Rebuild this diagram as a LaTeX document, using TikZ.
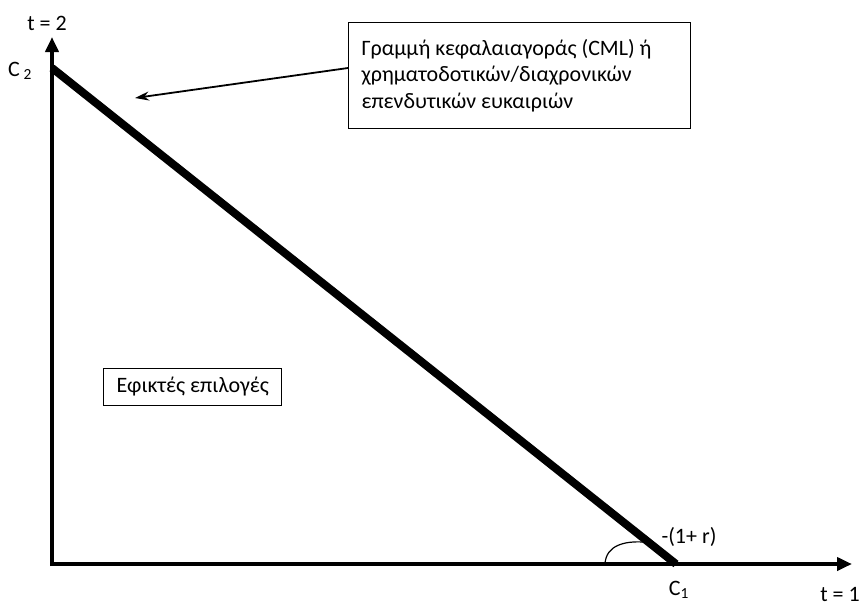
\documentclass[tikz,border=0pt]{standalone}
\usepackage{fontspec}
\setmainfont{Carlito}
\usepackage{tikz}
\usetikzlibrary{arrows.meta, positioning}

\begin{document}
\begin{tikzpicture}[
  x=1pt, y=-1pt,
  axisln/.style={line width=4.5pt, -{Triangle[length=15pt, width=13pt]}},
  cmlln/.style={line width=8pt},
  notebox/.style={rectangle, draw, line width=1pt, font=\fontsize{22}{26.5}\selectfont,
               align=flush left, inner xsep=13pt, inner ysep=6pt},
  lbl/.style={font=\fontsize{22}{24}\selectfont, inner sep=0pt},
  ptr/.style={-{Stealth[length=14pt, width=9pt]}, line width=1.8pt}
]
  \useasboundingbox (0,0) rectangle (867,606);

  % axes
  \coordinate (o) at (50,564);
  \coordinate (ytop) at (52,37);
  \coordinate (xend) at (852,564);
  \draw[axisln] (52,566) -- (ytop);
  \draw[axisln] (o) -- (xend);

  % capital market line
  \coordinate (c2) at (52,68);
  \coordinate (c1) at (676,564);
  \draw[cmlln] (c2) -- (c1);

  % slope arc
  \coordinate (arcA) at (605,564);
  \coordinate (arcB) at (643,542);
  \draw[line width=1.2pt] (arcA) .. controls (606,545) and (625,541) .. (arcB);

  % labels
  \node[lbl] (t2) at (47,23) {t = 2};
  \node[lbl] (t1) at (840,594) {t = 1};
  \node[lbl] (lc2) at (20,71) {C\,\textsubscript{2}};
  \node[lbl] (lc1) at (679,590) {C\textsubscript{1}};
  \node[lbl] (slope) at (689,537) {-(1+ r)};

  \node[notebox, anchor=north west, text width=316pt, minimum height=106pt, inner ysep=12pt] (cml) at (348,22)
    {Γραμμή κεφαλαιαγοράς (CML) ή\\χρηματοδοτικών/διαχρονικών\\επενδυτικών ευκαιριών};
  \node[notebox, anchor=north west, minimum height=37pt, inner ysep=3pt] (feas) at (103,368)
    {Εφικτές επιλογές};

  \coordinate (tip) at (135,98);
  \draw[ptr] (cml.west |- 0,68) -- (tip);
\end{tikzpicture}
\end{document}
